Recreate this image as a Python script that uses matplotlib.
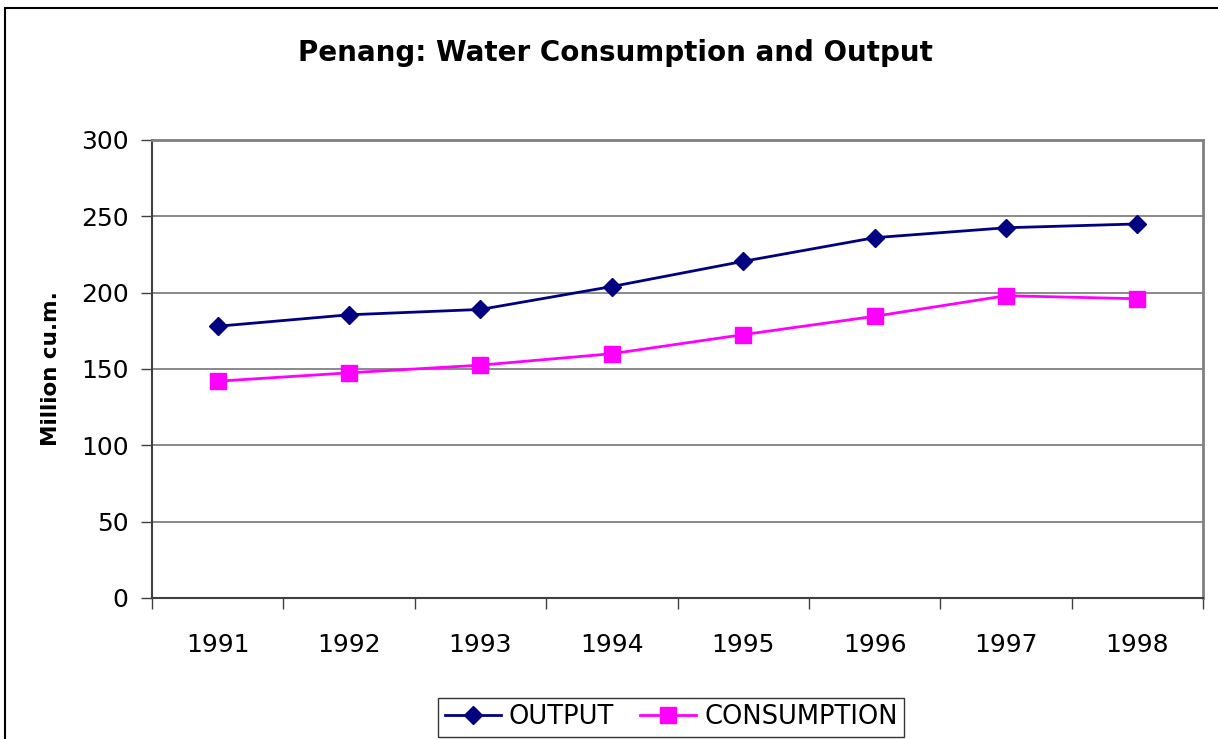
import numpy as np
import matplotlib.pyplot as plt
from matplotlib.patches import Rectangle

years = ["1991", "1992", "1993", "1994", "1995", "1996", "1997", "1998"]
output = [178, 185.5, 189, 204, 220.5, 236, 242.5, 245]
consumption = [142, 147.5, 152.5, 160, 172.5, 184.5, 198, 196]

plt.rcParams["font.family"] = ["DejaVu Sans"]

fig = plt.figure(figsize=(12.18, 7.39), dpi=100)
ax = fig.add_axes([0.1248, 0.1908, 0.8629, 0.6198])

# outer chart border
fig.patches.append(Rectangle((5 / 1218, -0.05), 1.2, (739 - 8) / 739 + 0.05,
                             transform=fig.transFigure, fill=False,
                             edgecolor="black", linewidth=1.5))

x = np.arange(len(years))
ax.plot(x, output, color="#000080", linewidth=2, marker="D", markersize=9,
        label="OUTPUT")
ax.plot(x, consumption, color="#FF00FF", linewidth=2, marker="s", markersize=11,
        label="CONSUMPTION")

ax.set_xlim(-0.5, len(years) - 0.5)
ax.set_ylim(0, 300)
ax.set_yticks(np.arange(0, 301, 50))
ax.grid(True, axis="y", color="#808080", linewidth=1.3)
ax.set_axisbelow(True)

ax.set_xticks(x)
ax.set_xticklabels(years, fontsize=18)
ax.tick_params(axis="x", length=0, pad=25)
ax.set_xticks(np.arange(-0.5, len(years), 1), minor=True)
ax.tick_params(axis="x", which="minor", length=8, width=1, color="#404040")
ax.tick_params(axis="y", labelsize=18, length=8, width=1, color="#404040", pad=9)

for s in ["top", "right"]:
    ax.spines[s].set_color("#808080")
    ax.spines[s].set_linewidth(2)
for s in ["left", "bottom"]:
    ax.spines[s].set_color("#404040")
    ax.spines[s].set_linewidth(1.5)

ax.set_ylabel("Million cu.m.", fontsize=15.5, fontweight="bold", labelpad=14)
fig.text(0.505, 0.928, "Penang: Water Consumption and Output", ha="center",
         va="center", fontsize=20, fontweight="bold")

leg = fig.legend(loc="lower center", bbox_to_anchor=(0.551, 0.003), ncol=2,
                 fontsize=18.5, frameon=True, fancybox=False, edgecolor="black",
                 handlelength=2.2, columnspacing=1.0, handletextpad=0.3,
                 borderpad=0.25, borderaxespad=0)
leg.get_frame().set_linewidth(1)

fig.savefig("out.png", dpi=100)
